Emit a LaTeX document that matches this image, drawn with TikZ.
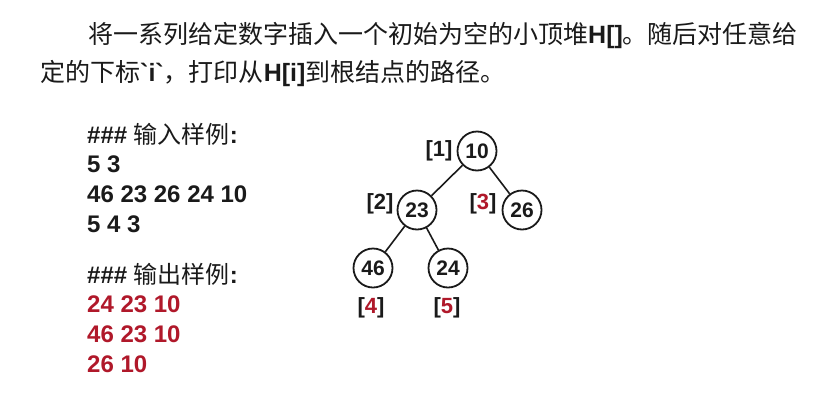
\documentclass[tikz,border=0pt]{standalone}
\usepackage{fontspec}
\setmainfont{Liberation Sans}
\newfontfamily\cjk{Noto Sans CJK SC}
\font\rawbold="Liberation Sans/B" at 25pt
\usetikzlibrary{positioning}
\definecolor{ink}{HTML}{1A1A1A}
\definecolor{hot}{HTML}{B0182A}
\tikzset{
  txt/.style={anchor=base west, inner sep=0pt, text=ink,
              font=\fontsize{24}{24}\selectfont},
  title/.style={txt, font=\fontsize{25}{25}\selectfont},
  numline/.style={txt, font=\fontsize{24}{24}\selectfont\bfseries},
  heapnode/.style={circle, draw=ink, line width=1.8pt, minimum size=39pt,
              inner sep=0pt, text=ink, font=\fontsize{21}{21}\selectfont\bfseries},
  idx/.style={inner sep=0pt, text=ink, font=\fontsize{22}{22}\selectfont\bfseries},
  edge/.style={line width=1.6pt, draw=ink}
}
\begin{document}
\begin{tikzpicture}[x=1pt, y=-1pt]
  \useasboundingbox[fill=white] (0,0) rectangle (840,418);

  % problem statement
  \node[title] (line1) at (88,43)
    {{\cjk 将一系列给定数字插入一个初始为空的小顶堆}\textbf{H[]}{\cjk 。随后对任意给}};
  \node[title] (line2) at (40,81)
    {{\cjk 定的下标}{\rawbold`i`}{\cjk ，打印从}\textbf{H[i]}{\cjk 到根结点的路径。}};

  % sample input / output
  \node[txt] (inhead) at (87,143) {\textbf{\#\#\#} {\cjk 输入样例}\textbf{:}};
  \node[numline] (in1) at (87,172) {5 3};
  \node[numline] (in2) at (87,202) {46 23 26 24 10};
  \node[numline] (in3) at (87,232) {5 4 3};
  \node[txt] (outhead) at (87,283) {\textbf{\#\#\#} {\cjk 输出样例}\textbf{:}};
  \node[numline, text=hot] (out1) at (87,312) {24 23 10};
  \node[numline, text=hot] (out2) at (87,342) {46 23 10};
  \node[numline, text=hot] (out3) at (87,372) {26 10};

  % the heap
  \foreach \n/\x/\y/\v in {h1/477/151/10, h2/417/210/23, h3/522/210/26,
                           h4/373/268/46, h5/448/268/24}
    \node[heapnode] (\n) at (\x,\y) {\v};
  \draw[edge] (h1) -- (h2);
  \draw[edge] (h1) -- (h3);
  \draw[edge] (h2) -- (h4);
  \draw[edge] (h2) -- (h5);

  \node[idx] (i1) at (439,151) {[1]};
  \node[idx] (i2) at (380,204) {[2]};
  \node[idx] (i3) at (483,204) {[\textcolor{hot}{3}]};
  \node[idx] (i4) at (371,308) {[\textcolor{hot}{4}]};
  \node[idx] (i5) at (447,308) {[\textcolor{hot}{5}]};
\end{tikzpicture}
\end{document}
